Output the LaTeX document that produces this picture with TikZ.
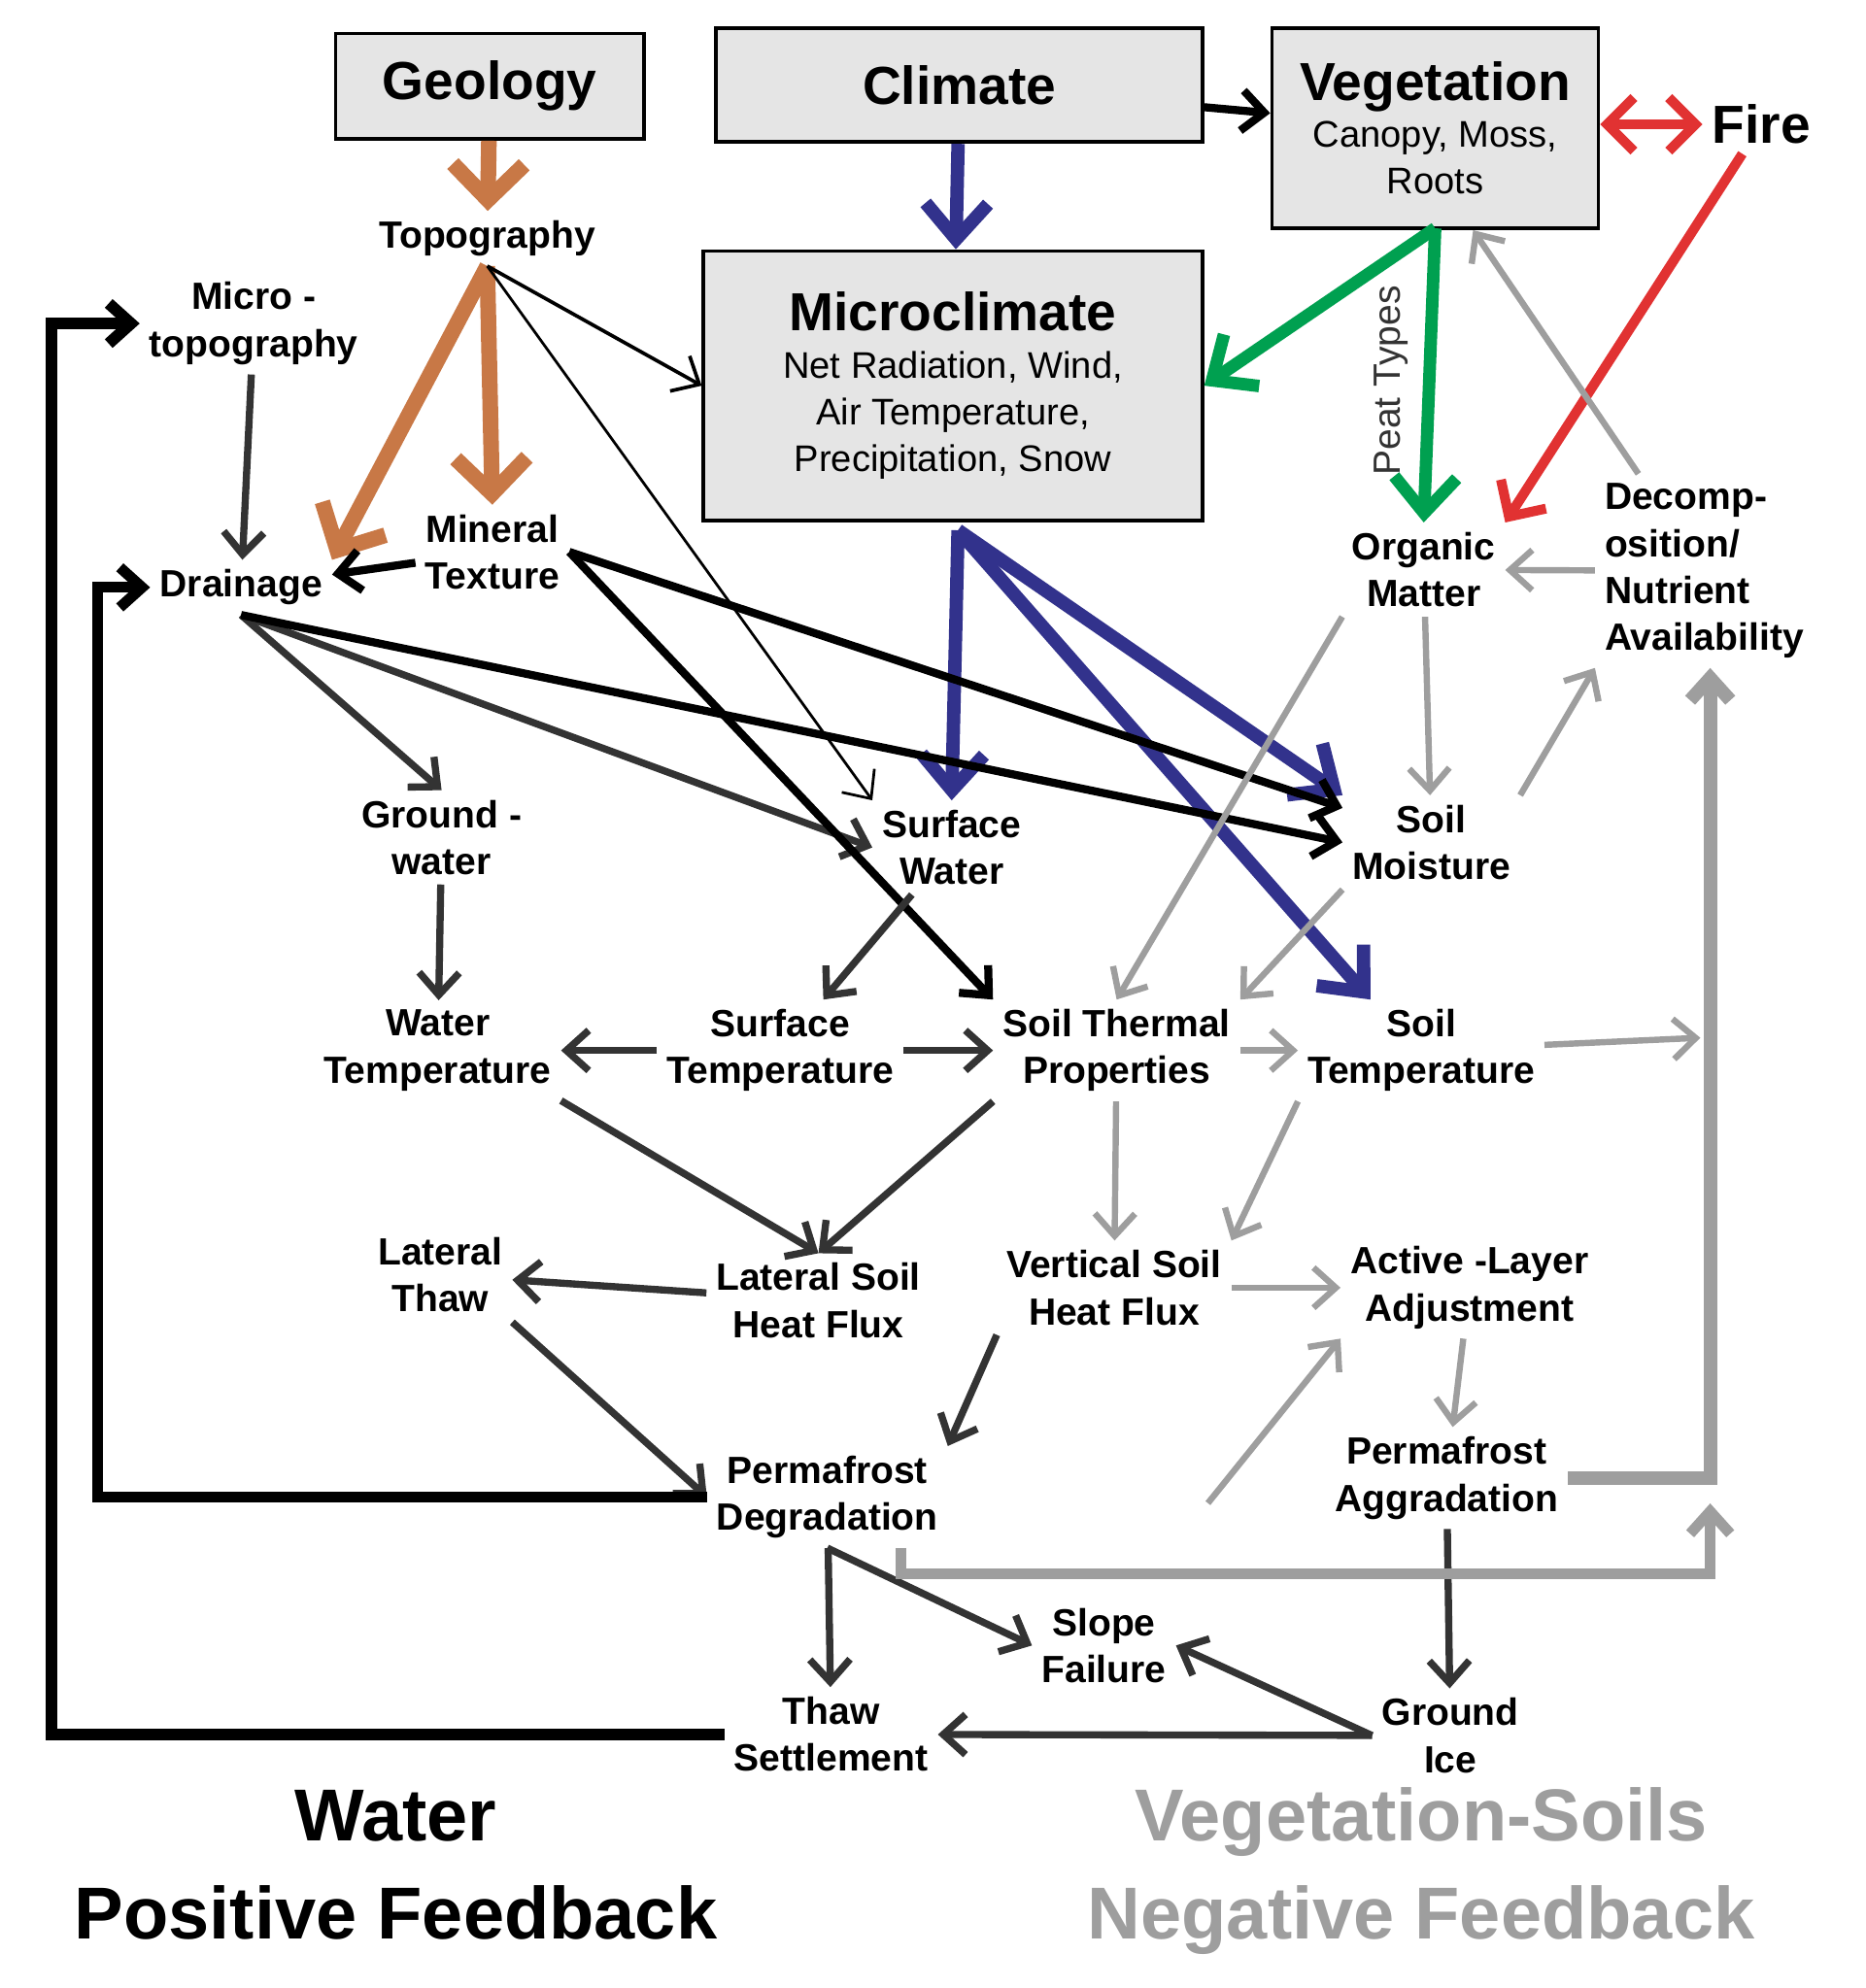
\documentclass[tikz,border=0pt]{standalone}
\usepackage{fontspec}
\setmainfont{Liberation Sans}
\usetikzlibrary{arrows.meta}
\definecolor{boxgray}{gray}{0.9}
\definecolor{dk}{gray}{0.2}
\definecolor{lt}{gray}{0.62}
\definecolor{brn}{RGB}{200,120,70}
\definecolor{blu}{RGB}{50,50,140}
\definecolor{grn}{RGB}{0,160,80}
\definecolor{rd}{RGB}{225,50,50}
\newcommand{\ttl}{\fontsize{12}{15}\selectfont\bfseries}
\newcommand{\sbt}{\fontsize{8.3}{10.5}\selectfont\mdseries}
\begin{document}
\begin{tikzpicture}[x=0.01cm, y=-0.01cm, >={Straight Barb[length=5pt,width=9pt]},
    box/.style={draw, thick, fill=boxgray, align=center, inner sep=0pt},
    lbl/.style={align=center, font=\fontsize{8.5}{10.5}\selectfont\bfseries, inner sep=2pt},
    darr/.style={->, line width=1.6pt, dk},
    karr/.style={->, line width=1.8pt, black},
    thin/.style={->, line width=0.8pt, black},
    garr/.style={->, line width=1.4pt, lt},
    barr/.style={->, line width=3.5pt, brn, >={Straight Barb[length=8pt,width=16pt]}},
    uarr/.style={->, line width=3pt, blu, >={Straight Barb[length=8pt,width=14pt]}},
    narr/.style={->, line width=2.8pt, grn, >={Straight Barb[length=8pt,width=14pt]}},
    rarr/.style={line width=2.2pt, rd, >={Straight Barb[length=6pt,width=12pt]}}]

    \useasboundingbox (0,0) rectangle (1470,1567);

    % Boxes
    \node [box, minimum width=2.43cm, minimum height=0.83cm, font=\ttl] (geo) at (386,68) {Geology};
    \node [box, minimum width=3.83cm, minimum height=0.9cm, font=\ttl] (clim) at (756,67) {Climate};
    \node [box, minimum width=2.57cm, minimum height=1.58cm, font=\sbt] (veg) at (1131,101) {{\ttl Vegetation}\\Canopy, Moss,\\Roots};
    \node [box, minimum width=3.93cm, minimum height=2.12cm, font=\sbt] (micro) at (751,304) {{\ttl Microclimate}\\Net Radiation, Wind,\\Air Temperature,\\Precipitation, Snow};
    \node [lbl, font=\fontsize{12}{14}\selectfont\bfseries] (fire) at (1388,98) {Fire};

    % Labels
    \node [lbl] (topo) at (384,188) {Topography};
    \node [lbl] (mtopo) at (200,255) {Micro -\\topography};
    \node [lbl] (drain) at (190,463) {Drainage};
    \node [lbl] (mint) at (388,435) {Mineral\\Texture};
    \node [lbl] (org) at (1122,449) {Organic\\Matter};
    \node [lbl, align=left] (decomp) at (1343,450) {Decomp-\\osition/\\Nutrient\\Availability};
    \node [lbl] (gw) at (348,660) {Ground -\\water};
    \node [lbl] (sw) at (750,668) {Surface\\Water};
    \node [lbl] (smoist) at (1128,664) {Soil\\Moisture};
    \node [lbl] (wtemp) at (345,828) {Water\\Temperature};
    \node [lbl] (stemp) at (615,828) {Surface\\Temperature};
    \node [lbl] (stp) at (880,828) {Soil Thermal\\Properties};
    \node [lbl] (soilt) at (1120,828) {Soil\\Temperature};
    \node [lbl] (lthaw) at (347,1005) {Lateral\\Thaw};
    \node [lbl] (lhf) at (645,1025) {Lateral Soil\\Heat Flux};
    \node [lbl] (vhf) at (878,1015) {Vertical Soil\\Heat Flux};
    \node [lbl] (alayer) at (1158,1015) {Active -Layer\\Adjustment};
    \node [lbl] (pdeg) at (652,1180) {Permafrost\\Degradation};
    \node [lbl] (pagg) at (1140,1165) {Permafrost\\Aggradation};
    \node [lbl] (slope) at (870,1297) {Slope\\Failure};
    \node [lbl] (thaw) at (655,1367) {Thaw\\Settlement};
    \node [lbl] (gice) at (1143,1368) {Ground\\Ice};
    \node [font=\fontsize{16.5}{22}\selectfont\bfseries, align=center] (wpf) at (312,1470) {Water\\Positive Feedback};
    \node [font=\fontsize{16.5}{22}\selectfont\bfseries, align=center, text=lt] (vnf) at (1120,1475) {Vegetation-Soils\\Negative Feedback};
    \node [rotate=90, font=\fontsize{8.5}{10}\selectfont, text=dk] (peat) at (1096,300) {Peat Types};

    \coordinate (mc) at (755,418);
    \coordinate (vb) at (1131,180);
    \coordinate (rt) at (1340,818);

    % Top arrows
    \draw [barr] (geo) -- (topo);
    \draw [barr] (topo.south) -- (drain.north east);
    \draw [barr] (topo.south) -- (mint.north);
    \draw [uarr] (clim) -- (micro);
    \draw [karr] (clim) -- (veg);
    \draw [rarr, <->] (veg.east |- fire) -- (fire);
    \draw [rarr, ->] (fire) -- (org.north east);
    \draw [narr] (vb) -- (micro.east);
    \draw [narr] (vb) -- (org.north);
    \draw [thin] (topo.south) -- (micro.west);
    \draw [->, line width=0.6pt] (topo.south) -- (sw.north west);

    % Blue arrows
    \draw [uarr] (mc) -- (sw.north);
    \draw [uarr] (mc) -- (smoist.north west);
    \draw [uarr] (mc) -- ([xshift=-0.4cm]soilt.north);

    % Water side
    \draw [darr] (mtopo) -- (drain);
    \draw [karr] (mint) -- (drain);
    \draw [darr] (drain.south) -- (gw.north);
    \draw [darr] (drain.south) -- (sw.west);
    \draw [karr] (drain.south) -- (smoist.west);
    \draw [karr] (mint.east) -- ([yshift=-0.1cm]smoist.north west);
    \draw [karr] (mint.east) -- (stp.north west);
    \draw [darr] (gw) -- (wtemp);
    \draw [darr] (sw) -- (stemp);
    \draw [darr] (stemp) -- (wtemp);
    \draw [darr] (stemp) -- (stp);
    \draw [darr] (wtemp.south east) -- (lhf.north);
    \draw [darr] (stp.south west) -- (lhf.north);
    \draw [darr] (lhf) -- (lthaw);
    \draw [darr] (lthaw.south east) -- (pdeg.west);
    \draw [darr] (vhf.south west) -- (pdeg.north east);
    \draw [darr] (pdeg) -- (thaw);
    \draw [darr] (pdeg.south) -- (slope.west);
    \draw [darr] (gice.west) -- (slope.east);
    \draw [darr] (gice) -- (thaw);
    \draw [darr] (pagg) -- (gice);

    % Positive feedback loops
    \draw [karr, line width=2.4pt] (pdeg.west) -- ++(-480,0) |- (drain.west);
    \draw [karr, line width=2.6pt] (thaw.west) -- ++(-530,0) |- (mtopo.west);

    % Vegetation-soils side
    \draw [garr] (decomp) -- ([xshift=-1cm]veg.south east);
    \draw [garr] (decomp) -- (org);
    \draw [garr] (org) -- (smoist);
    \draw [garr] (smoist.north east) -- (decomp.south west);
    \draw [garr] (org.south west) -- (stp.north);
    \draw [garr] (smoist.south west) -- (stp.north east);
    \draw [garr] (stp) -- (soilt);
    \draw [garr] (soilt) -- (rt);
    \draw [garr] (stp) -- (vhf);
    \draw [garr] (soilt.south west) -- (vhf.north east);
    \draw [garr] (vhf) -- (alayer);
    \draw [garr] (alayer) -- (pagg);
    \draw [garr] (pdeg.north east) ++(205,45) coordinate (pd) -- (alayer.south west);
    \draw [garr, line width=3pt] (pagg.east) -- ++(112,0) coordinate (pa) -- (pa |- decomp.south);
    \draw [garr, line width=2.4pt] (pdeg.south) ++(58,0) coordinate (pb) -- ++(0,20) -| ([yshift=-0.2cm]pa);
\end{tikzpicture}
\end{document}
